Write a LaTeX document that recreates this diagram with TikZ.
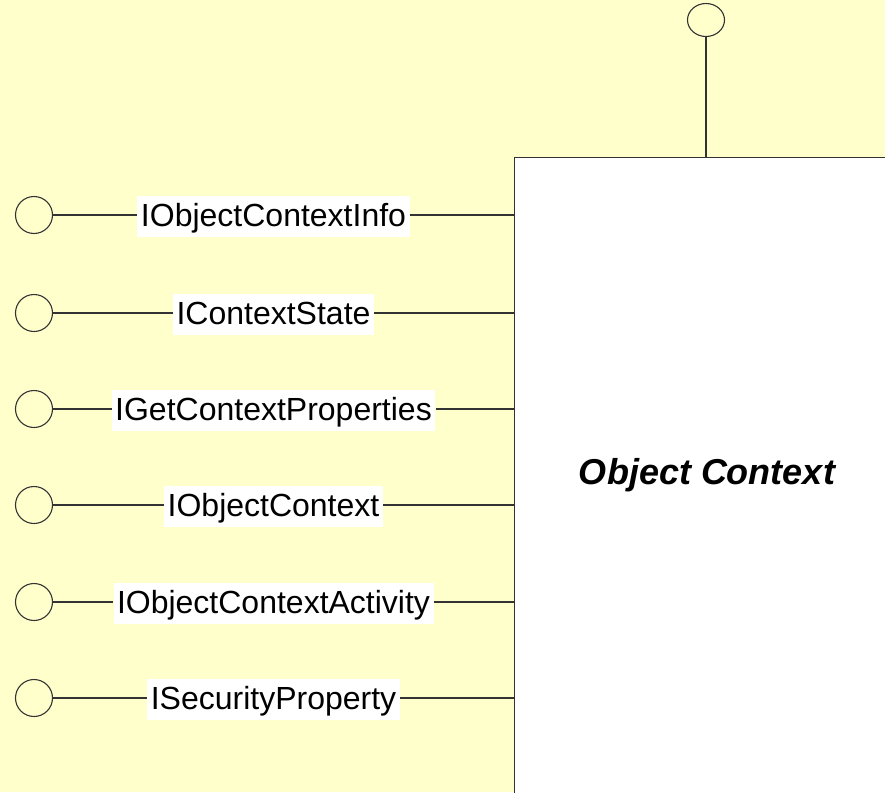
\documentclass[tikz,border=0pt]{standalone}
\usepackage{fontspec}
\setmainfont{Liberation Sans}
\usetikzlibrary{shapes.geometric}
\definecolor{paper}{HTML}{FFFFCC}
\definecolor{ink}{HTML}{333333}
\begin{document}
\begin{tikzpicture}[x=1pt,y=-1pt,
  wire/.style={draw=ink,line width=1.1pt},
  lollipop/.style={ellipse,draw=ink,line width=1.1pt,inner sep=0pt,minimum width=37pt,minimum height=37pt},
  iface/.style={fill=white,inner xsep=3.5pt,inner ysep=3pt,text height=28pt,text depth=7pt,
    font=\fontsize{32}{38}\selectfont},
  compbox/.style={rectangle,draw=ink,fill=white,line width=1.4pt,anchor=north west,inner sep=0pt}]
  \clip (0,0) rectangle (885,792);
  \fill[paper] (0,0) rectangle (885,792);

  % component body
  \node[compbox,minimum width=400pt,minimum height=660pt] (box) at (514,157) {};
  \node[font=\fontsize{36}{42}\selectfont\bfseries\itshape] (title) at (707,475) {Object Context};

  % interface on top
  \node[lollipop,minimum height=33pt] (top) at (706,20) {};
  \draw[wire] (top.south) -- (top.south |- box.north);

  % interfaces on the left
  \foreach \i/\y/\t in {1/215/IObjectContextInfo,
                        2/313/IContextState,
                        3/409/IGetContextProperties,
                        4/505/IObjectContext,
                        5/602/IObjectContextActivity,
                        6/698/ISecurityProperty}{
    \node[lollipop] (c\i) at (34,\y) {};
    \node[iface] (l\i) at (273.5,\y+1) {\t};
    \draw[wire] (c\i.east) -- (c\i.east -| l\i.west);
    \draw[wire] (c\i.east -| l\i.east) -- (c\i.east -| box.west);
  }
\end{tikzpicture}
\end{document}
